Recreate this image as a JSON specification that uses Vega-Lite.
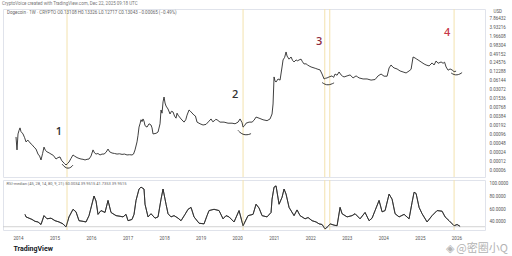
{
 "$schema": "https://vega.github.io/schema/vega-lite/v6.json",
 "background": "white",
 "padding": {"left": 2, "top": 1, "right": 0, "bottom": 0},
 "title": {"text": "CryptoVoice created with TradingView.com, Dec 22, 2025 09:18 UTC", "anchor": "start", "fontSize": 4.5, "font": "Roboto", "fontWeight": "normal", "color": "#777777", "offset": 2},
 "spacing": 1,
 "resolve": {"scale": {"x": "independent", "y": "independent"}},
 "config": {
  "view": {"stroke": "#e0e3eb"},
  "font": "Roboto",
  "axis": {"labelColor": "#555555", "labelFont": "Roboto", "labelFontSize": 4.5, "domain": false, "ticks": false, "grid": false, "labelOverlap": false}
 },
 "datasets": {
  "events": [{"d": "2015-05-06"}, {"d": "2020-02-29"}, {"d": "2022-05-26"}, {"d": "2022-07-15"}, {"d": "2025-12-09"}],
  "labels": [
   {"d": "2015-02-15", "p": 0.00116, "t": "1"},
   {"d": "2019-12-11", "p": 0.0204, "t": "2"},
   {"d": "2022-03-30", "p": 1.24, "t": "3"},
   {"d": "2025-09-30", "p": 2.5, "t": "4"}
  ],
  "arcs": [
   {"arc": 1, "d": "2015-03-17", "p": 0.0000972}, {"arc": 1, "d": "2015-04-16", "p": 0.0000743}, {"arc": 1, "d": "2015-05-16", "p": 0.0000687}, {"arc": 1, "d": "2015-06-15", "p": 0.0000743}, {"arc": 1, "d": "2015-07-05", "p": 0.00009},
   {"arc": 2, "d": "2020-01-10", "p": 0.00131}, {"arc": 2, "d": "2020-02-09", "p": 0.00103}, {"arc": 2, "d": "2020-03-20", "p": 0.000917}, {"arc": 2, "d": "2020-04-29", "p": 0.000955}, {"arc": 2, "d": "2020-05-19", "p": 0.00103},
   {"arc": 3, "d": "2022-04-29", "p": 0.054}, {"arc": 3, "d": "2022-05-29", "p": 0.0462}, {"arc": 3, "d": "2022-06-28", "p": 0.0445}, {"arc": 3, "d": "2022-07-28", "p": 0.0469}, {"arc": 3, "d": "2022-08-27", "p": 0.0525},
   {"arc": 4, "d": "2025-11-09", "p": 0.113}, {"arc": 4, "d": "2025-12-09", "p": 0.098}, {"arc": 4, "d": "2026-01-08", "p": 0.0966}, {"arc": 4, "d": "2026-02-07", "p": 0.104}, {"arc": 4, "d": "2026-02-27", "p": 0.117}
  ],
  "price": [
   {"d": "2013-12-12", "p": 0.00079}, {"d": "2013-12-22", "p": 0.00029}, {"d": "2014-01-01", "p": 0.0010}, {"d": "2014-01-11", "p": 0.0013}, {"d": "2014-01-21", "p": 0.0016}, {"d": "2014-01-31", "p": 0.0012}, {"d": "2014-02-20", "p": 0.0010}, {"d": "2014-03-08", "p": 0.00075}, {"d": "2014-03-22", "p": 0.00054}, {"d": "2014-04-10", "p": 0.00062}, {"d": "2014-05-01", "p": 0.0005}, {"d": "2014-05-20", "p": 0.00044}, {"d": "2014-06-10", "p": 0.00036}, {"d": "2014-06-30", "p": 0.00031}, {"d": "2014-07-20", "p": 0.00021}, {"d": "2014-08-05", "p": 0.00018}, {"d": "2014-08-19", "p": 0.000133}, {"d": "2014-09-04", "p": 0.00022}, {"d": "2014-09-18", "p": 0.00036}, {"d": "2014-10-02", "p": 0.00028}, {"d": "2014-10-18", "p": 0.00025}, {"d": "2014-11-08", "p": 0.00023}, {"d": "2014-11-27", "p": 0.00021}, {"d": "2014-12-20", "p": 0.00019},
   {"d": "2015-01-16", "p": 0.000143}, {"d": "2015-02-05", "p": 0.00016}, {"d": "2015-02-25", "p": 0.000168}, {"d": "2015-03-12", "p": 0.00013}, {"d": "2015-03-27", "p": 0.000113}, {"d": "2015-04-12", "p": 0.0001}, {"d": "2015-04-26", "p": 0.00009}, {"d": "2015-05-10", "p": 0.0001}, {"d": "2015-05-26", "p": 0.000113}, {"d": "2015-06-15", "p": 0.00015}, {"d": "2015-07-05", "p": 0.000196}, {"d": "2015-07-20", "p": 0.00018}, {"d": "2015-08-14", "p": 0.00016}, {"d": "2015-09-03", "p": 0.00015}, {"d": "2015-09-23", "p": 0.000143}, {"d": "2015-10-13", "p": 0.00014}, {"d": "2015-11-02", "p": 0.000133}, {"d": "2015-11-22", "p": 0.00014}, {"d": "2015-12-12", "p": 0.000143},
   {"d": "2016-01-01", "p": 0.00018}, {"d": "2016-01-21", "p": 0.00029}, {"d": "2016-02-05", "p": 0.00023}, {"d": "2016-02-20", "p": 0.00021}, {"d": "2016-03-10", "p": 0.00022}, {"d": "2016-03-31", "p": 0.000196}, {"d": "2016-04-20", "p": 0.00021}, {"d": "2016-05-10", "p": 0.00021}, {"d": "2016-05-30", "p": 0.00024}, {"d": "2016-06-19", "p": 0.00031}, {"d": "2016-07-05", "p": 0.00025}, {"d": "2016-07-29", "p": 0.000228}, {"d": "2016-08-23", "p": 0.00022}, {"d": "2016-09-17", "p": 0.00021}, {"d": "2016-10-12", "p": 0.000215}, {"d": "2016-11-06", "p": 0.000205}, {"d": "2016-12-01", "p": 0.00021}, {"d": "2016-12-26", "p": 0.000196},
   {"d": "2017-01-20", "p": 0.0002}, {"d": "2017-02-14", "p": 0.000196}, {"d": "2017-03-01", "p": 0.00021}, {"d": "2017-03-16", "p": 0.00029}, {"d": "2017-04-05", "p": 0.00054}, {"d": "2017-04-15", "p": 0.0009}, {"d": "2017-04-25", "p": 0.0017}, {"d": "2017-05-05", "p": 0.0022}, {"d": "2017-05-15", "p": 0.0030}, {"d": "2017-05-25", "p": 0.0026}, {"d": "2017-06-04", "p": 0.0032}, {"d": "2017-06-14", "p": 0.0027}, {"d": "2017-06-24", "p": 0.0019}, {"d": "2017-07-14", "p": 0.0017}, {"d": "2017-08-03", "p": 0.0022}, {"d": "2017-08-23", "p": 0.002}, {"d": "2017-09-02", "p": 0.0016}, {"d": "2017-09-12", "p": 0.0010}, {"d": "2017-10-12", "p": 0.00105}, {"d": "2017-11-01", "p": 0.00116}, {"d": "2017-11-21", "p": 0.0022}, {"d": "2017-12-01", "p": 0.0064}, {"d": "2017-12-11", "p": 0.0050}, {"d": "2017-12-21", "p": 0.012}, {"d": "2017-12-31", "p": 0.0175},
   {"d": "2018-01-10", "p": 0.011}, {"d": "2018-01-20", "p": 0.0087}, {"d": "2018-02-09", "p": 0.0069}, {"d": "2018-03-01", "p": 0.0047}, {"d": "2018-03-15", "p": 0.0058}, {"d": "2018-03-31", "p": 0.0055}, {"d": "2018-04-15", "p": 0.0040}, {"d": "2018-04-30", "p": 0.0034}, {"d": "2018-05-10", "p": 0.0050}, {"d": "2018-05-20", "p": 0.0043}, {"d": "2018-06-19", "p": 0.0032}, {"d": "2018-07-19", "p": 0.0025}, {"d": "2018-08-05", "p": 0.0030}, {"d": "2018-08-18", "p": 0.0043}, {"d": "2018-09-07", "p": 0.0064}, {"d": "2018-09-17", "p": 0.0060}, {"d": "2018-09-27", "p": 0.0055}, {"d": "2018-10-27", "p": 0.0043}, {"d": "2018-11-10", "p": 0.0040}, {"d": "2018-11-26", "p": 0.0025}, {"d": "2018-12-26", "p": 0.0022},
   {"d": "2019-01-25", "p": 0.0020}, {"d": "2019-02-24", "p": 0.0021}, {"d": "2019-03-26", "p": 0.0027}, {"d": "2019-04-15", "p": 0.0032}, {"d": "2019-05-01", "p": 0.0026}, {"d": "2019-05-15", "p": 0.0027}, {"d": "2019-06-01", "p": 0.0031}, {"d": "2019-06-14", "p": 0.0030}, {"d": "2019-07-14", "p": 0.0025}, {"d": "2019-08-23", "p": 0.0025}, {"d": "2019-10-02", "p": 0.0023}, {"d": "2019-11-11", "p": 0.0023}, {"d": "2019-12-11", "p": 0.0022},
   {"d": "2020-01-10", "p": 0.0025}, {"d": "2020-01-30", "p": 0.0032}, {"d": "2020-02-19", "p": 0.0024}, {"d": "2020-02-29", "p": 0.0017}, {"d": "2020-03-15", "p": 0.0019}, {"d": "2020-03-30", "p": 0.0023}, {"d": "2020-04-29", "p": 0.0025}, {"d": "2020-05-29", "p": 0.0025}, {"d": "2020-06-18", "p": 0.0029}, {"d": "2020-07-08", "p": 0.0037}, {"d": "2020-08-07", "p": 0.0034}, {"d": "2020-09-16", "p": 0.0030}, {"d": "2020-10-26", "p": 0.0028}, {"d": "2020-11-25", "p": 0.0032}, {"d": "2020-12-15", "p": 0.0047}, {"d": "2020-12-25", "p": 0.0102},
   {"d": "2021-01-04", "p": 0.083}, {"d": "2021-01-14", "p": 0.060}, {"d": "2021-01-24", "p": 0.056}, {"d": "2021-02-13", "p": 0.071}, {"d": "2021-03-05", "p": 0.065}, {"d": "2021-03-25", "p": 0.18}, {"d": "2021-04-04", "p": 0.31}, {"d": "2021-04-20", "p": 0.38}, {"d": "2021-05-04", "p": 0.575}, {"d": "2021-05-14", "p": 0.42}, {"d": "2021-06-03", "p": 0.33}, {"d": "2021-06-23", "p": 0.39}, {"d": "2021-07-08", "p": 0.30}, {"d": "2021-07-23", "p": 0.265}, {"d": "2021-08-12", "p": 0.31}, {"d": "2021-08-28", "p": 0.29}, {"d": "2021-09-11", "p": 0.31}, {"d": "2021-10-01", "p": 0.33}, {"d": "2021-10-15", "p": 0.27}, {"d": "2021-10-31", "p": 0.227}, {"d": "2021-11-20", "p": 0.23}, {"d": "2021-12-05", "p": 0.21}, {"d": "2021-12-20", "p": 0.195},
   {"d": "2022-01-09", "p": 0.18}, {"d": "2022-02-08", "p": 0.167}, {"d": "2022-02-25", "p": 0.16}, {"d": "2022-03-10", "p": 0.154}, {"d": "2022-04-09", "p": 0.143}, {"d": "2022-04-29", "p": 0.104}, {"d": "2022-05-19", "p": 0.071}, {"d": "2022-06-03", "p": 0.075}, {"d": "2022-06-18", "p": 0.077}, {"d": "2022-07-08", "p": 0.083}, {"d": "2022-08-07", "p": 0.09}, {"d": "2022-08-22", "p": 0.08}, {"d": "2022-09-06", "p": 0.104}, {"d": "2022-09-26", "p": 0.095}, {"d": "2022-10-16", "p": 0.122}, {"d": "2022-11-05", "p": 0.097}, {"d": "2022-11-20", "p": 0.088}, {"d": "2022-12-05", "p": 0.083},
   {"d": "2023-01-04", "p": 0.09}, {"d": "2023-02-03", "p": 0.097}, {"d": "2023-03-05", "p": 0.077}, {"d": "2023-04-04", "p": 0.09}, {"d": "2023-04-20", "p": 0.083}, {"d": "2023-05-04", "p": 0.077}, {"d": "2023-06-13", "p": 0.071}, {"d": "2023-07-23", "p": 0.071}, {"d": "2023-09-01", "p": 0.065}, {"d": "2023-10-11", "p": 0.068}, {"d": "2023-11-10", "p": 0.09}, {"d": "2023-12-10", "p": 0.104},
   {"d": "2024-01-09", "p": 0.088}, {"d": "2024-02-08", "p": 0.088}, {"d": "2024-02-28", "p": 0.167}, {"d": "2024-03-19", "p": 0.21}, {"d": "2024-04-05", "p": 0.18}, {"d": "2024-04-18", "p": 0.167}, {"d": "2024-05-18", "p": 0.154}, {"d": "2024-06-17", "p": 0.132}, {"d": "2024-07-17", "p": 0.122}, {"d": "2024-08-16", "p": 0.113}, {"d": "2024-09-15", "p": 0.132}, {"d": "2024-10-05", "p": 0.15}, {"d": "2024-10-25", "p": 0.39}, {"d": "2024-11-14", "p": 0.36}, {"d": "2024-12-01", "p": 0.33}, {"d": "2024-12-14", "p": 0.31},
   {"d": "2025-01-13", "p": 0.265}, {"d": "2025-02-12", "p": 0.227}, {"d": "2025-03-04", "p": 0.21}, {"d": "2025-04-03", "p": 0.195}, {"d": "2025-05-03", "p": 0.246}, {"d": "2025-05-23", "p": 0.21}, {"d": "2025-06-12", "p": 0.286}, {"d": "2025-07-02", "p": 0.24}, {"d": "2025-08-01", "p": 0.265}, {"d": "2025-08-21", "p": 0.24}, {"d": "2025-09-05", "p": 0.26}, {"d": "2025-09-20", "p": 0.18}, {"d": "2025-10-10", "p": 0.14}, {"d": "2025-10-30", "p": 0.154}, {"d": "2025-11-19", "p": 0.143}, {"d": "2025-12-09", "p": 0.125}, {"d": "2025-12-29", "p": 0.13}
  ],
  "osc": [
   {"d": "2014-03-12", "v": 52}, {"d": "2014-03-22", "v": 48}, {"d": "2014-04-21", "v": 46}, {"d": "2014-05-21", "v": 44}, {"d": "2014-06-20", "v": 41}, {"d": "2014-07-20", "v": 40}, {"d": "2014-08-19", "v": 36}, {"d": "2014-09-18", "v": 50}, {"d": "2014-10-18", "v": 45}, {"d": "2014-11-27", "v": 46},
   {"d": "2015-01-06", "v": 42}, {"d": "2015-02-15", "v": 40}, {"d": "2015-03-27", "v": 37}, {"d": "2015-04-26", "v": 32}, {"d": "2015-05-26", "v": 48}, {"d": "2015-07-05", "v": 60}, {"d": "2015-08-04", "v": 56}, {"d": "2015-09-03", "v": 42}, {"d": "2015-10-13", "v": 41}, {"d": "2015-11-12", "v": 40}, {"d": "2015-12-12", "v": 50},
   {"d": "2016-01-31", "v": 81}, {"d": "2016-02-20", "v": 73}, {"d": "2016-03-11", "v": 52}, {"d": "2016-04-10", "v": 58}, {"d": "2016-05-20", "v": 55}, {"d": "2016-06-19", "v": 74}, {"d": "2016-07-19", "v": 55}, {"d": "2016-09-07", "v": 50}, {"d": "2016-10-17", "v": 49}, {"d": "2016-11-16", "v": 48}, {"d": "2016-12-16", "v": 52},
   {"d": "2017-01-05", "v": 42}, {"d": "2017-02-14", "v": 44}, {"d": "2017-03-06", "v": 52}, {"d": "2017-03-26", "v": 74}, {"d": "2017-04-25", "v": 92}, {"d": "2017-05-15", "v": 95}, {"d": "2017-06-14", "v": 92}, {"d": "2017-06-24", "v": 68}, {"d": "2017-07-24", "v": 48}, {"d": "2017-08-23", "v": 53}, {"d": "2017-10-02", "v": 46}, {"d": "2017-11-01", "v": 48}, {"d": "2017-12-01", "v": 76}, {"d": "2017-12-21", "v": 92},
   {"d": "2018-01-20", "v": 68}, {"d": "2018-02-09", "v": 53}, {"d": "2018-03-11", "v": 48}, {"d": "2018-04-10", "v": 50}, {"d": "2018-05-20", "v": 46}, {"d": "2018-06-19", "v": 42}, {"d": "2018-07-29", "v": 52}, {"d": "2018-08-28", "v": 60}, {"d": "2018-09-27", "v": 63}, {"d": "2018-10-27", "v": 48}, {"d": "2018-12-16", "v": 38},
   {"d": "2019-02-04", "v": 37}, {"d": "2019-03-06", "v": 50}, {"d": "2019-03-26", "v": 58}, {"d": "2019-05-15", "v": 60}, {"d": "2019-07-04", "v": 58}, {"d": "2019-08-13", "v": 45}, {"d": "2019-09-12", "v": 50}, {"d": "2019-10-12", "v": 48}, {"d": "2019-12-01", "v": 40},
   {"d": "2020-01-20", "v": 58}, {"d": "2020-02-29", "v": 34}, {"d": "2020-04-19", "v": 50}, {"d": "2020-06-08", "v": 52}, {"d": "2020-07-08", "v": 68}, {"d": "2020-08-07", "v": 62}, {"d": "2020-09-06", "v": 50}, {"d": "2020-10-26", "v": 48}, {"d": "2020-12-05", "v": 55}, {"d": "2020-12-15", "v": 76},
   {"d": "2021-01-04", "v": 95}, {"d": "2021-01-24", "v": 97}, {"d": "2021-02-23", "v": 68}, {"d": "2021-03-25", "v": 79}, {"d": "2021-04-14", "v": 92}, {"d": "2021-05-04", "v": 84}, {"d": "2021-06-03", "v": 63}, {"d": "2021-07-23", "v": 50}, {"d": "2021-08-22", "v": 59}, {"d": "2021-09-21", "v": 50}, {"d": "2021-11-10", "v": 45}, {"d": "2021-12-10", "v": 47},
   {"d": "2022-01-19", "v": 42}, {"d": "2022-02-28", "v": 40}, {"d": "2022-03-30", "v": 37}, {"d": "2022-04-29", "v": 36}, {"d": "2022-05-29", "v": 29}, {"d": "2022-06-28", "v": 33}, {"d": "2022-07-18", "v": 37}, {"d": "2022-08-27", "v": 35}, {"d": "2022-09-26", "v": 34}, {"d": "2022-10-26", "v": 63}, {"d": "2022-11-15", "v": 53},
   {"d": "2023-01-04", "v": 48}, {"d": "2023-02-23", "v": 50}, {"d": "2023-03-25", "v": 53}, {"d": "2023-05-14", "v": 45}, {"d": "2023-07-03", "v": 55}, {"d": "2023-08-12", "v": 42}, {"d": "2023-09-11", "v": 46}, {"d": "2023-10-11", "v": 58}, {"d": "2023-11-20", "v": 74}, {"d": "2023-12-20", "v": 56},
   {"d": "2024-01-19", "v": 58}, {"d": "2024-02-28", "v": 84}, {"d": "2024-03-29", "v": 76}, {"d": "2024-04-28", "v": 53}, {"d": "2024-06-07", "v": 48}, {"d": "2024-07-27", "v": 52}, {"d": "2024-09-15", "v": 45}, {"d": "2024-10-15", "v": 71}, {"d": "2024-11-04", "v": 87}, {"d": "2024-11-24", "v": 85}, {"d": "2024-12-24", "v": 63},
   {"d": "2025-01-23", "v": 53}, {"d": "2025-03-14", "v": 40}, {"d": "2025-05-03", "v": 50}, {"d": "2025-06-22", "v": 58}, {"d": "2025-08-11", "v": 57}, {"d": "2025-09-10", "v": 48}, {"d": "2025-10-20", "v": 42}, {"d": "2025-12-09", "v": 34}, {"d": "2026-01-08", "v": 36}, {"d": "2026-02-07", "v": 33}
  ]
 },
 "vconcat": [
  {
   "width": 482,
   "height": 168,
   "title": {"text": "Dogecoin · 1W · CRYPTO   O0.13108  H0.13326  L0.12717  C0.13043  −0.00065 (−0.49%)", "anchor": "start", "fontSize": 4.5, "font": "Roboto", "fontWeight": "normal", "color": "#666666", "offset": -6, "dx": 4},
   "layer": [
    {"data": {"name": "events"}, "mark": {"type": "rule", "color": "#f3e2ae", "strokeWidth": 1},
     "encoding": {"x": {"field": "d", "type": "temporal", "scale": {"type": "utc", "domain": ["2013-08-04", "2026-10-14"]}, "axis": null}}},
    {"data": {"name": "price"}, "mark": {"type": "line", "color": "#2a2a2a", "strokeWidth": 0.9},
     "encoding": {
      "x": {"field": "d", "type": "temporal", "scale": {"type": "utc", "domain": ["2013-08-04", "2026-10-14"]}, "axis": null},
      "y": {"field": "p", "type": "quantitative", "scale": {"type": "log", "domain": [0.0000355, 16.1], "nice": false},
       "axis": {"orient": "right", "values": [0.00006, 0.00012, 0.00024, 0.00048, 0.00096, 0.00192, 0.00384, 0.00768, 0.01536, 0.03072, 0.06144, 0.12288, 0.24576, 0.49152, 0.98304, 1.96608, 3.93216, 7.86432], "format": ".5f", "labelPadding": 4, "title": "USD", "titleAngle": 0, "titleX": 8, "titleY": -1, "titleAlign": "left", "titleBaseline": "top", "titleFontSize": 4.5, "titleFontWeight": "normal", "titleColor": "#555555", "titleFont": "Roboto"}}
     }},
    {"data": {"name": "arcs"}, "mark": {"type": "line", "color": "#222222", "strokeWidth": 0.9, "interpolate": "basis"},
     "encoding": {
      "x": {"field": "d", "type": "temporal"},
      "y": {"field": "p", "type": "quantitative"},
      "detail": {"field": "arc", "type": "nominal"}
     }},
    {"data": {"name": "labels"}, "transform": [{"filter": "datum.t == '1' || datum.t == '2'"}], "mark": {"type": "text", "fontSize": 11, "font": "Open Sans", "fontWeight": 600, "color": "#333333"},
     "encoding": {
      "x": {"field": "d", "type": "temporal"},
      "y": {"field": "p", "type": "quantitative"},
      "text": {"field": "t"}
     }},
    {"data": {"name": "labels"}, "transform": [{"filter": "datum.t == '3'"}], "mark": {"type": "text", "fontSize": 11, "font": "Open Sans", "fontWeight": 600, "color": "#8e2c3c"},
     "encoding": {
      "x": {"field": "d", "type": "temporal"},
      "y": {"field": "p", "type": "quantitative"},
      "text": {"field": "t"}
     }},
    {"data": {"name": "labels"}, "transform": [{"filter": "datum.t == '4'"}], "mark": {"type": "text", "fontSize": 11, "font": "Open Sans", "fontWeight": 600, "color": "#c8384a"},
     "encoding": {
      "x": {"field": "d", "type": "temporal"},
      "y": {"field": "p", "type": "quantitative"},
      "text": {"field": "t"}
     }}
   ]
  },
  {
   "width": 482,
   "height": 50,
   "title": {"text": "RSI-median (45, 28, 14, 80, 9, 21)   50.0034   39.9515   41.7353   39.9515", "anchor": "start", "fontSize": 4, "font": "Roboto", "fontWeight": "normal", "color": "#666666", "offset": -6, "dx": 4},
   "layer": [
    {"data": {"name": "osc"}, "mark": {"type": "line", "color": "#2a2a2a", "strokeWidth": 0.8},
     "encoding": {
      "x": {"field": "d", "type": "temporal", "scale": {"type": "utc", "domain": ["2013-08-04", "2026-10-14"]},
       "axis": {"values": [{"year": 2014, "month": 1, "utc": true}, {"year": 2014, "month": 7, "utc": true}, {"year": 2015, "month": 1, "utc": true}, {"year": 2015, "month": 7, "utc": true}, {"year": 2016, "month": 1, "utc": true}, {"year": 2016, "month": 7, "utc": true}, {"year": 2017, "month": 1, "utc": true}, {"year": 2017, "month": 7, "utc": true}, {"year": 2018, "month": 1, "utc": true}, {"year": 2018, "month": 7, "utc": true}, {"year": 2019, "month": 1, "utc": true}, {"year": 2019, "month": 7, "utc": true}, {"year": 2020, "month": 1, "utc": true}, {"year": 2020, "month": 7, "utc": true}, {"year": 2021, "month": 1, "utc": true}, {"year": 2021, "month": 7, "utc": true}, {"year": 2022, "month": 1, "utc": true}, {"year": 2022, "month": 7, "utc": true}, {"year": 2023, "month": 1, "utc": true}, {"year": 2023, "month": 7, "utc": true}, {"year": 2024, "month": 1, "utc": true}, {"year": 2024, "month": 7, "utc": true}, {"year": 2025, "month": 1, "utc": true}, {"year": 2025, "month": 7, "utc": true}, {"year": 2026, "month": 1, "utc": true}],
        "labelExpr": "utcmonth(datum.value) == 6 ? 'Jul' : utcFormat(datum.value, '%Y')", "labelPadding": 5, "labelFontSize": 4.5,
        "title": "TradingView", "titleAnchor": "start", "titleAlign": "left", "titleX": 10, "titleFontSize": 7, "titleFontWeight": "bold", "titleColor": "#131722", "titleFont": "Roboto", "titlePadding": 5}},
      "y": {"field": "v", "type": "quantitative", "scale": {"domain": [27.3, 106.3], "nice": false, "zero": false},
       "axis": {"orient": "right", "values": [40, 60, 80, 100], "tickCount": 4, "labelExpr": "format(datum.value, '.4f')", "labelPadding": 4, "labelOverlap": false, "labelFlush": false, "labelBound": false, "labelSeparation": 0, "labelAngle": 0, "labelAlign": "left", "labelBaseline": "middle", "labelFontSize": 4.5, "labelColor": "#555555", "title": null}}
     }},
    {"data": {"name": "events"}, "mark": {"type": "rule", "color": "#f3e2ae", "strokeWidth": 1},
     "encoding": {"x": {"field": "d", "type": "temporal"}}},
    {"data": {"values": [{"v": 32.5}]}, "mark": {"type": "rule", "color": "#c8c8c8", "strokeWidth": 0.8},
     "encoding": {"y": {"field": "v", "type": "quantitative"}}},
    {"data": {"name": "osc"}, "mark": {"type": "line", "color": "#2a2a2a", "strokeWidth": 0.8},
     "encoding": {
      "x": {"field": "d", "type": "temporal"},
      "y": {"field": "v", "type": "quantitative"}
     }},
    {"data": {"values": [{"d": "2026-07-25", "v": -3.5, "t": "◈ @密圈小Q"}]}, "mark": {"type": "text", "fontSize": 11, "font": "Noto Sans CJK SC", "color": "#9a9a9a", "opacity": 0.75},
     "encoding": {
      "x": {"field": "d", "type": "temporal"},
      "y": {"field": "v", "type": "quantitative"},
      "text": {"field": "t"}
     }}
   ]
  }
 ]
}
